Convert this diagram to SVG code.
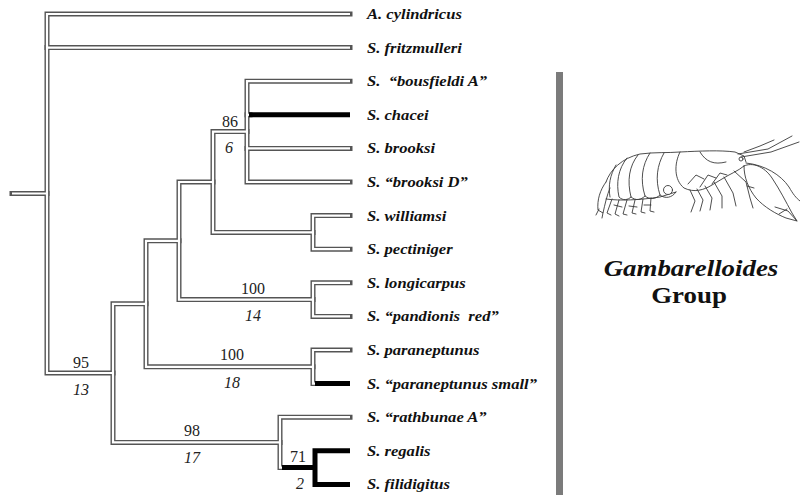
<svg xmlns="http://www.w3.org/2000/svg" width="800" height="495" viewBox="0 0 800 495">
  <style>
    .edge-o { fill: none; stroke: #555555; stroke-width: 5; stroke-linecap: square; stroke-linejoin: miter; }
    .edge-i { fill: none; stroke: #ffffff; stroke-width: 2.2; stroke-linecap: butt; stroke-linejoin: miter; }
    .edge-b { fill: none; stroke: #000000; stroke-width: 5; stroke-linecap: butt; stroke-linejoin: miter; }
    .serif { font-family: 'Liberation Serif', 'Times New Roman', Times, Tinos, 'Noto Serif', 'DejaVu Serif', serif; }
    .tip { font-weight: bold; font-style: italic; font-size: 15.5px; fill: #111; white-space: pre; }
    .sup { font-size: 16px; fill: #222; text-anchor: middle; }
    .dec { font-style: italic; font-size: 16px; fill: #222; text-anchor: middle; }
    .title { font-weight: bold; font-size: 24px; fill: #111; text-anchor: middle; }
    .ink { fill: none; stroke: #3a3a3a; stroke-width: 0.9; stroke-linejoin: round; stroke-linecap: round; }
  </style>
  <defs>
    <!-- tree skeleton, drawn twice: dark outline then white core -->
    <g id="tree">
      <path d="M12,193.5 H47"/>
      <path d="M350,14 H47 V373 H113"/>
      <path d="M47,47.6 H350"/>
      <path d="M146,303.8 H113 V442.4 H280"/>
      <path d="M179,240.8 H146 V366.8 H313"/>
      <path d="M350,350 H313 V383.6 H316"/>
      <path d="M213,182 H179 V299.6 H313"/>
      <path d="M350,282.8 H313 V316.4 H350"/>
      <path d="M247,131.6 H213 V232.4 H313"/>
      <path d="M350,215.6 H313 V249.2 H350"/>
      <path d="M350,81.2 H247 V182 H350"/>
      <path d="M247,148.4 H350"/>
      <path d="M247,114.8 H250"/>
      <path d="M350,417.2 H280 V467.6 H283"/>
    </g>
  </defs>

  <rect width="800" height="495" fill="#ffffff"/>

  <!-- connectors -->
  <g id="connectors">
    <use href="#tree" class="edge-o"/>
    <use href="#tree" class="edge-i"/>
    <!-- solid black branches -->
    <path class="edge-b" d="M249,114.8 H350"/>
    <path class="edge-b" d="M315,383.6 H350"/>
    <path class="edge-b" d="M282,467.6 H315"/>
    <path class="edge-b" d="M350,450.8 H315 V484.4 H350"/>
  </g>

  <g class="serif">
    <!-- support values -->
    <g id="node-86"><text class="sup" x="230" y="127">86</text><text class="dec" x="229" y="153">6</text></g>
    <g id="node-100a"><text class="sup" x="253" y="294">100</text><text class="dec" x="253" y="321">14</text></g>
    <g id="node-100b"><text class="sup" x="232" y="360">100</text><text class="dec" x="232" y="388">18</text></g>
    <g id="node-95"><text class="sup" x="81" y="368">95</text><text class="dec" x="81" y="395">13</text></g>
    <g id="node-98"><text class="sup" x="192" y="436">98</text><text class="dec" x="192" y="463">17</text></g>
    <g id="node-71"><text class="sup" x="298" y="462">71</text><text class="dec" x="300" y="489">2</text></g>

    <!-- taxa -->
    <g id="taxa" transform="translate(367 0) scale(1.07 1)">
      <g id="t-cylindricus"><text class="tip" x="0" y="19">A. cylindricus</text></g>
      <g id="t-fritzmulleri"><text class="tip" x="0" y="52.6">S. fritzmulleri</text></g>
      <g id="t-bousfieldi"><text class="tip" x="0" y="86.2">S.  “bousfieldi A”</text></g>
      <g id="t-chacei"><text class="tip" x="0" y="119.8">S. chacei</text></g>
      <g id="t-brooksi"><text class="tip" x="0" y="153.4">S. brooksi</text></g>
      <g id="t-brooksiD"><text class="tip" x="0" y="187">S. “brooksi D”</text></g>
      <g id="t-williamsi"><text class="tip" x="0" y="220.6">S. williamsi</text></g>
      <g id="t-pectiniger"><text class="tip" x="0" y="254.2">S. pectiniger</text></g>
      <g id="t-longicarpus"><text class="tip" x="0" y="287.8">S. longicarpus</text></g>
      <g id="t-pandionis"><text class="tip" x="0" y="321.4">S. “pandionis  red”</text></g>
      <g id="t-paraneptunus"><text class="tip" x="0" y="355">S. paraneptunus</text></g>
      <g id="t-paraneptunus-small"><text class="tip" x="0" y="388.6">S. “paraneptunus small”</text></g>
      <g id="t-rathbunae"><text class="tip" x="0" y="422.2">S. “rathbunae A”</text></g>
      <g id="t-regalis"><text class="tip" x="0" y="455.8">S. regalis</text></g>
      <g id="t-filidigitus"><text class="tip" x="0" y="489.4">S. filidigitus</text></g>
    </g>

    <!-- group title -->
    <g id="group-title">
      <text class="title" transform="translate(691 276) scale(1.12 1)" x="0" y="0" font-style="italic">Gambarelloides</text>
      <text class="title" transform="translate(689 303) scale(1.12 1)" x="0" y="0">Group</text>
    </g>
  </g>

  <!-- group bracket bar -->
  <rect id="group-bar" x="556" y="72" width="7" height="423" fill="#7b7b7b"/>

  <!-- shrimp sketch -->
  <g id="shrimp" class="ink">
    <!-- big claw -->
    <path d="M744,166 C752,162 764,166 772,178 C780,190 786,202 792,213 L797,221 L786,218 C776,214 764,207 756,198 C748,188 744,177 744,166 Z" fill="#fff"/>
    <path d="M775,207 L788,211 L797,221 M779,214 L787,209"/>
    <!-- antennae -->
    <path d="M738,154 L768,149 L792,136 M741,157 L771,152 L799,142 M744,152 L760,146 L774,140"/>
    <path d="M746,163 C765,165 781,175 789,187 C793,194 796,198 800,201"/>
    <!-- dorsal outline -->
    <path d="M606,182 C610,170 622,158 640,154 C655,152 668,153 680,152 C700,151 720,150 735,152 L744,156 L746,162"/>
    <!-- carapace lower edge -->
    <path d="M680,152 C674,164 674,180 684,188 C694,193 704,190 712,185 L722,179 C730,174 738,171 744,166"/>
    <path d="M700,152 C706,162 714,165 726,162"/>
    <!-- abdominal segments -->
    <path d="M664,153 C657,165 655,180 660,195 C665,199 672,198 676,192"/>
    <path d="M650,153 C642,165 640,180 645,196 C650,200 656,199 660,195"/>
    <path d="M638,155 C629,166 627,181 631,197 C636,201 641,200 645,196"/>
    <path d="M627,158 C618,169 616,183 619,197 C623,201 628,200 631,197"/>
    <path d="M616,165 C610,175 608,186 610,197"/>
    <path d="M606,199 C620,201 640,200 660,197 L676,192"/>
    <circle cx="668" cy="190" r="4.5" fill="#fff"/>
    <!-- tail fan -->
    <path d="M606,182 C600,190 597,200 598,210 L603,213 C605,204 607,195 610,188"/>
    <path d="M599,209 L596,215 M603,213 L602,218"/>
    <!-- pleopods -->
    <path d="M612,199 L607,213 L611,215 M619,200 L615,214 L619,216 M627,200 L623,214 L627,215 M635,200 L632,213 L636,214 M643,199 L641,212 L645,213 M651,198 L650,211 L654,212"/>
    <path d="M614,205 L622,207 M629,206 L637,207 M644,205 L651,205"/>
    <!-- walking legs -->
    <path d="M690,190 L695,201 L691,212 M697,189 L703,200 L700,211 M705,186 L712,198 L710,210 M714,182 L722,196 L722,208 M724,177 L733,193 L736,206"/>
    <path d="M688,184 L696,175 L704,179 M700,187 L708,175 L716,178 M712,184 L720,173 L727,175"/>
    <path d="M734,171 L746,182 L750,198 L753,208 M747,186 L754,188"/>
    <circle cx="741" cy="159" r="2"/>
  </g>
</svg>
